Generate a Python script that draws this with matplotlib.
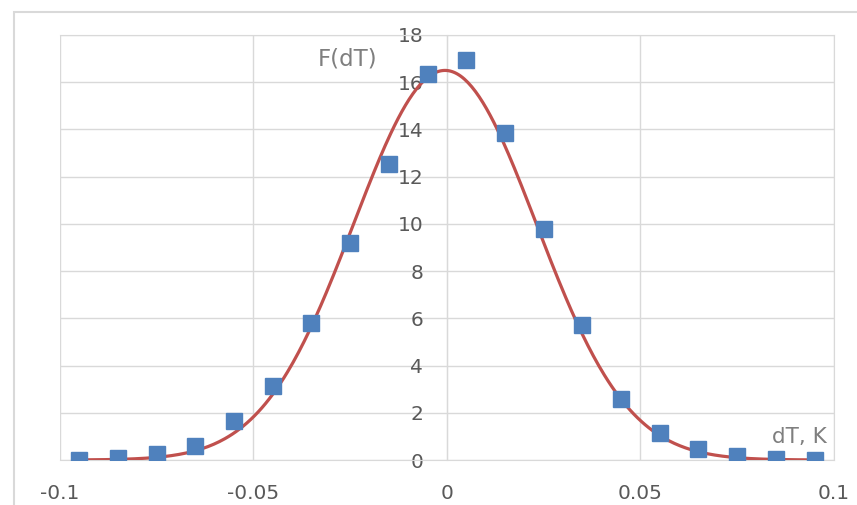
import numpy as np
import matplotlib
matplotlib.use("Agg")
import matplotlib.pyplot as plt
from matplotlib.patches import Rectangle

# measured points F(dT)
dT = [-0.095, -0.085, -0.075, -0.065, -0.055, -0.045, -0.035, -0.025, -0.015, -0.005,
      0.005, 0.015, 0.025, 0.035, 0.045, 0.055, 0.065, 0.075, 0.085, 0.095]
F = [0.02, 0.08, 0.25, 0.6, 1.65, 3.15, 5.8, 9.2, 12.55, 16.35,
     16.95, 13.85, 9.8, 5.7, 2.6, 1.15, 0.45, 0.15, 0.03, 0.02]

# gaussian fit parameters
amp = 16.5
mu = -0.0005
sigma = 0.0236

xticks = [-0.1, -0.05, 0, 0.05, 0.1]
xticklabels = ["-0.1", "-0.05", "0", "0.05", "0.1"]
yticks = [0, 2, 4, 6, 8, 10, 12, 14, 16, 18]

grid_c = "#d9d9d9"
text_c = "#595959"

fig = plt.figure(figsize=(8.57, 5.05), dpi=100)
fig.patches.append(Rectangle((0.0163, -0.1), 1.2, 0.1 + 0.976, transform=fig.transFigure,
                             fill=False, edgecolor=grid_c, linewidth=1.5))
ax = fig.add_axes([0.070, 0.0891, 0.903, 0.8416])

xs = np.linspace(dT[0], dT[-1], 400)
ax.plot(xs, amp * np.exp(-(xs - mu) ** 2 / (2 * sigma ** 2)), color="#c0504d", lw=2.3, zorder=3)
ax.plot(dT, F, linestyle="None", marker="s", markersize=11.5, color="#4f81bd", zorder=4)

ax.set_xlim(-0.1, 0.1)
ax.set_ylim(0, 18)
ax.set_xticks(xticks)
ax.set_xticklabels(xticklabels)
ax.set_yticks(yticks)
ax.grid(True, color=grid_c, linewidth=1)
ax.set_axisbelow(True)

ax.spines["left"].set_position(("data", 0))
ax.spines["left"].set_color(grid_c)
ax.spines["bottom"].set_color(grid_c)
ax.spines["top"].set_color(grid_c)
ax.spines["right"].set_color(grid_c)
ax.tick_params(axis="both", length=0, colors=text_c, labelsize=14.5)
ax.tick_params(axis="y", pad=17)
ax.tick_params(axis="x", pad=17)

ax.text(-0.0256, 17.0, "F(dT)", color="#7f7f7f", fontsize=16.5, ha="center", va="center")
ax.text(0.0912, 0.97, "dT, K", color="#7f7f7f", fontsize=15.5, ha="center", va="center")

fig.savefig("out.png", dpi=100)
